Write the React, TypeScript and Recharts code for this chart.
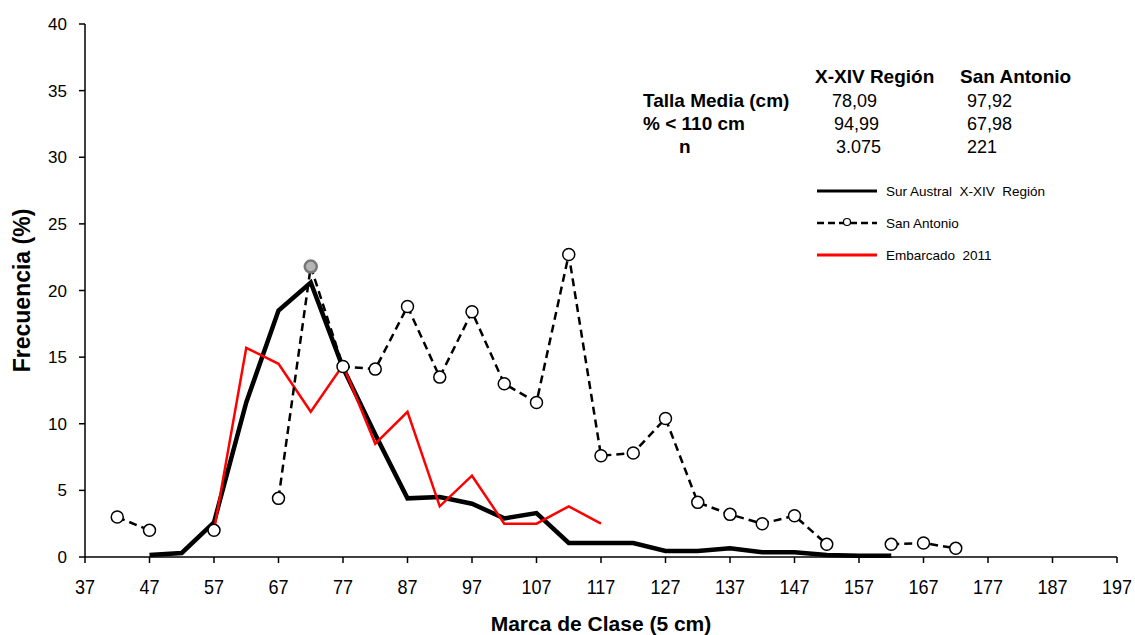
import React from 'react';
import { LineChart, Line, XAxis, YAxis, Label } from 'recharts';

// class marks (cm)
const marks = [42, 47, 52, 57, 62, 67, 72, 77, 82, 87, 92, 97, 102, 107, 112, 117, 122, 127, 132, 137, 142, 147, 152, 157, 162, 167, 172];

const surAustral = [null, 0.15, 0.3, 2.6, 11.6, 18.5, 20.6, 14.2, 9.2, 4.4, 4.5, 4.0, 2.9, 3.3, 1.05, 1.05, 1.05, 0.45, 0.45, 0.65, 0.35, 0.35, 0.15, 0.1, 0.1, null, null];
const sanAntonio = [3.0, 2.0, null, 2.0, null, 4.4, 21.8, 14.3, 14.1, 18.8, 13.5, 18.4, 13.0, 11.6, 22.7, 7.6, 7.8, 10.4, 4.1, 3.2, 2.5, 3.1, 0.95, null, 0.95, 1.05, 0.65];
const embarcado = [null, null, null, 2.0, 15.7, 14.5, 10.9, 14.4, 8.5, 10.9, 3.8, 6.1, 2.5, 2.5, 3.8, 2.5, null, null, null, null, null, null, null, null, null, null, null];

const xTicks = [37, 47, 57, 67, 77, 87, 97, 107, 117, 127, 137, 147, 157, 167, 177, 187, 197];
const yTicks = [0, 5, 10, 15, 20, 25, 30, 35, 40];

const data = marks.map((x, i) => ({
    x,
    sur: surAustral[i],
    sa: sanAntonio[i],
    emb: embarcado[i],
}));

const sans = 'Liberation Sans, Arial, sans-serif';

const SanAntonioDot = (props: any) => {
    const { cx, cy, index, value } = props;
    if (value == null || cx == null || cy == null) return null;
    const highlighted = marks[index] === 72;
    return (
        <circle
            key={`sa-${index}`}
            cx={cx}
            cy={cy}
            r={6}
            fill={highlighted ? '#b5b5b5' : '#fff'}
            stroke={highlighted ? '#777' : '#000'}
            strokeWidth={highlighted ? 2.5 : 1.5}
        />
    );
};

// x tick labels in the source look a bit condensed
const XTick = (props: any) => {
    const { x, y, payload } = props;
    return (
        <g transform={`translate(${x},${y})`}>
            <text transform="scale(0.9,1)" textAnchor="middle" dy="0.71em" fill="#000" fontSize={20} fontFamily={sans}>
                {payload.value}
            </text>
        </g>
    );
};

const cell = (left: number, top: number, text: string, bold = false): React.ReactNode => (
    <div
        key={`${left}-${top}`}
        style={{
            position: 'absolute',
            left,
            top,
            fontFamily: sans,
            fontSize: bold ? 19 : 18,
            fontWeight: bold ? 'bold' : 'normal',
            whiteSpace: 'pre',
            lineHeight: '20px',
        }}
    >
        {text}
    </div>
);

export default function App() {
    return (
        <div style={{ position: 'absolute', left: 0, top: 0, width: 1135, height: 635, background: '#fff' }}>
            <LineChart width={1135} height={635} data={data} margin={{ top: 24, right: 18, left: 0, bottom: 0 }}>
                <XAxis
                    dataKey="x"
                    type="number"
                    domain={[37, 197]}
                    ticks={xTicks}
                    interval={0}
                    height={78}
                    stroke="#000"
                    strokeWidth={1.5}
                    tickSize={6}
                    tick={<XTick />}
                    tickMargin={17}
                >
                    <Label
                        value="Marca de Clase (5 cm)"
                        position="insideBottom"
                        offset={4}
                        style={{ fill: '#000', fontSize: 21, fontWeight: 'bold', fontFamily: sans }}
                    />
                </XAxis>
                <YAxis
                    type="number"
                    domain={[0, 40]}
                    ticks={yTicks}
                    interval={0}
                    width={85}
                    stroke="#000"
                    strokeWidth={1.5}
                    tickSize={6}
                    tickMargin={12}
                    tick={{ fill: '#000', fontSize: 17, fontFamily: sans }}
                >
                    <Label
                        value="Frecuencia (%)"
                        angle={-90}
                        position="insideLeft"
                        offset={22}
                        style={{ fill: '#000', fontSize: 23, fontWeight: 'bold', fontFamily: sans, textAnchor: 'middle' }}
                    />
                </YAxis>
                <Line
                    dataKey="sur"
                    stroke="#000"
                    strokeWidth={4.5}
                    dot={false}
                    activeDot={false}
                    strokeLinejoin="miter"
                    isAnimationActive={false}
                />
                <Line
                    dataKey="emb"
                    stroke="#ff0000"
                    strokeWidth={2.5}
                    dot={false}
                    activeDot={false}
                    isAnimationActive={false}
                />
                <Line
                    dataKey="sa"
                    stroke="#000"
                    strokeWidth={2.5}
                    strokeDasharray="8 5"
                    dot={<SanAntonioDot />}
                    activeDot={false}
                    isAnimationActive={false}
                />
            </LineChart>

            {cell(815, 67, 'X-XIV Región', true)}
            {cell(960, 67, 'San Antonio', true)}
            {cell(643, 91, 'Talla Media (cm)', true)}
            {cell(832, 91, '78,09')}
            {cell(967, 91, '97,92')}
            {cell(643, 114, '% < 110 cm', true)}
            {cell(834, 114, '94,99')}
            {cell(967, 114, '67,98')}
            {cell(679, 137, 'n', true)}
            {cell(836, 137, '3.075')}
            {cell(967, 137, '221')}

            <svg style={{ position: 'absolute', left: 0, top: 0 }} width={1135} height={635} pointerEvents="none">
                <line x1={817} y1={191} x2={877} y2={191} stroke="#000" strokeWidth={3} />
                <line x1={817} y1={223} x2={877} y2={223} stroke="#000" strokeWidth={2.5} strokeDasharray="7 4" />
                <circle cx={847} cy={222} r={3.5} fill="#fff" stroke="#000" strokeWidth={1.2} />
                <line x1={817} y1={255} x2={877} y2={255} stroke="#ff0000" strokeWidth={3} />
                <text x={886} y={196} fontFamily={sans} fontSize={13.5} style={{ whiteSpace: 'pre' }}>Sur Austral  X-XIV  Región</text>
                <text x={886} y={228} fontFamily={sans} fontSize={13.5}>San Antonio</text>
                <text x={886} y={260} fontFamily={sans} fontSize={13.5} style={{ whiteSpace: 'pre' }}>Embarcado  2011</text>
            </svg>
        </div>
    );
}
